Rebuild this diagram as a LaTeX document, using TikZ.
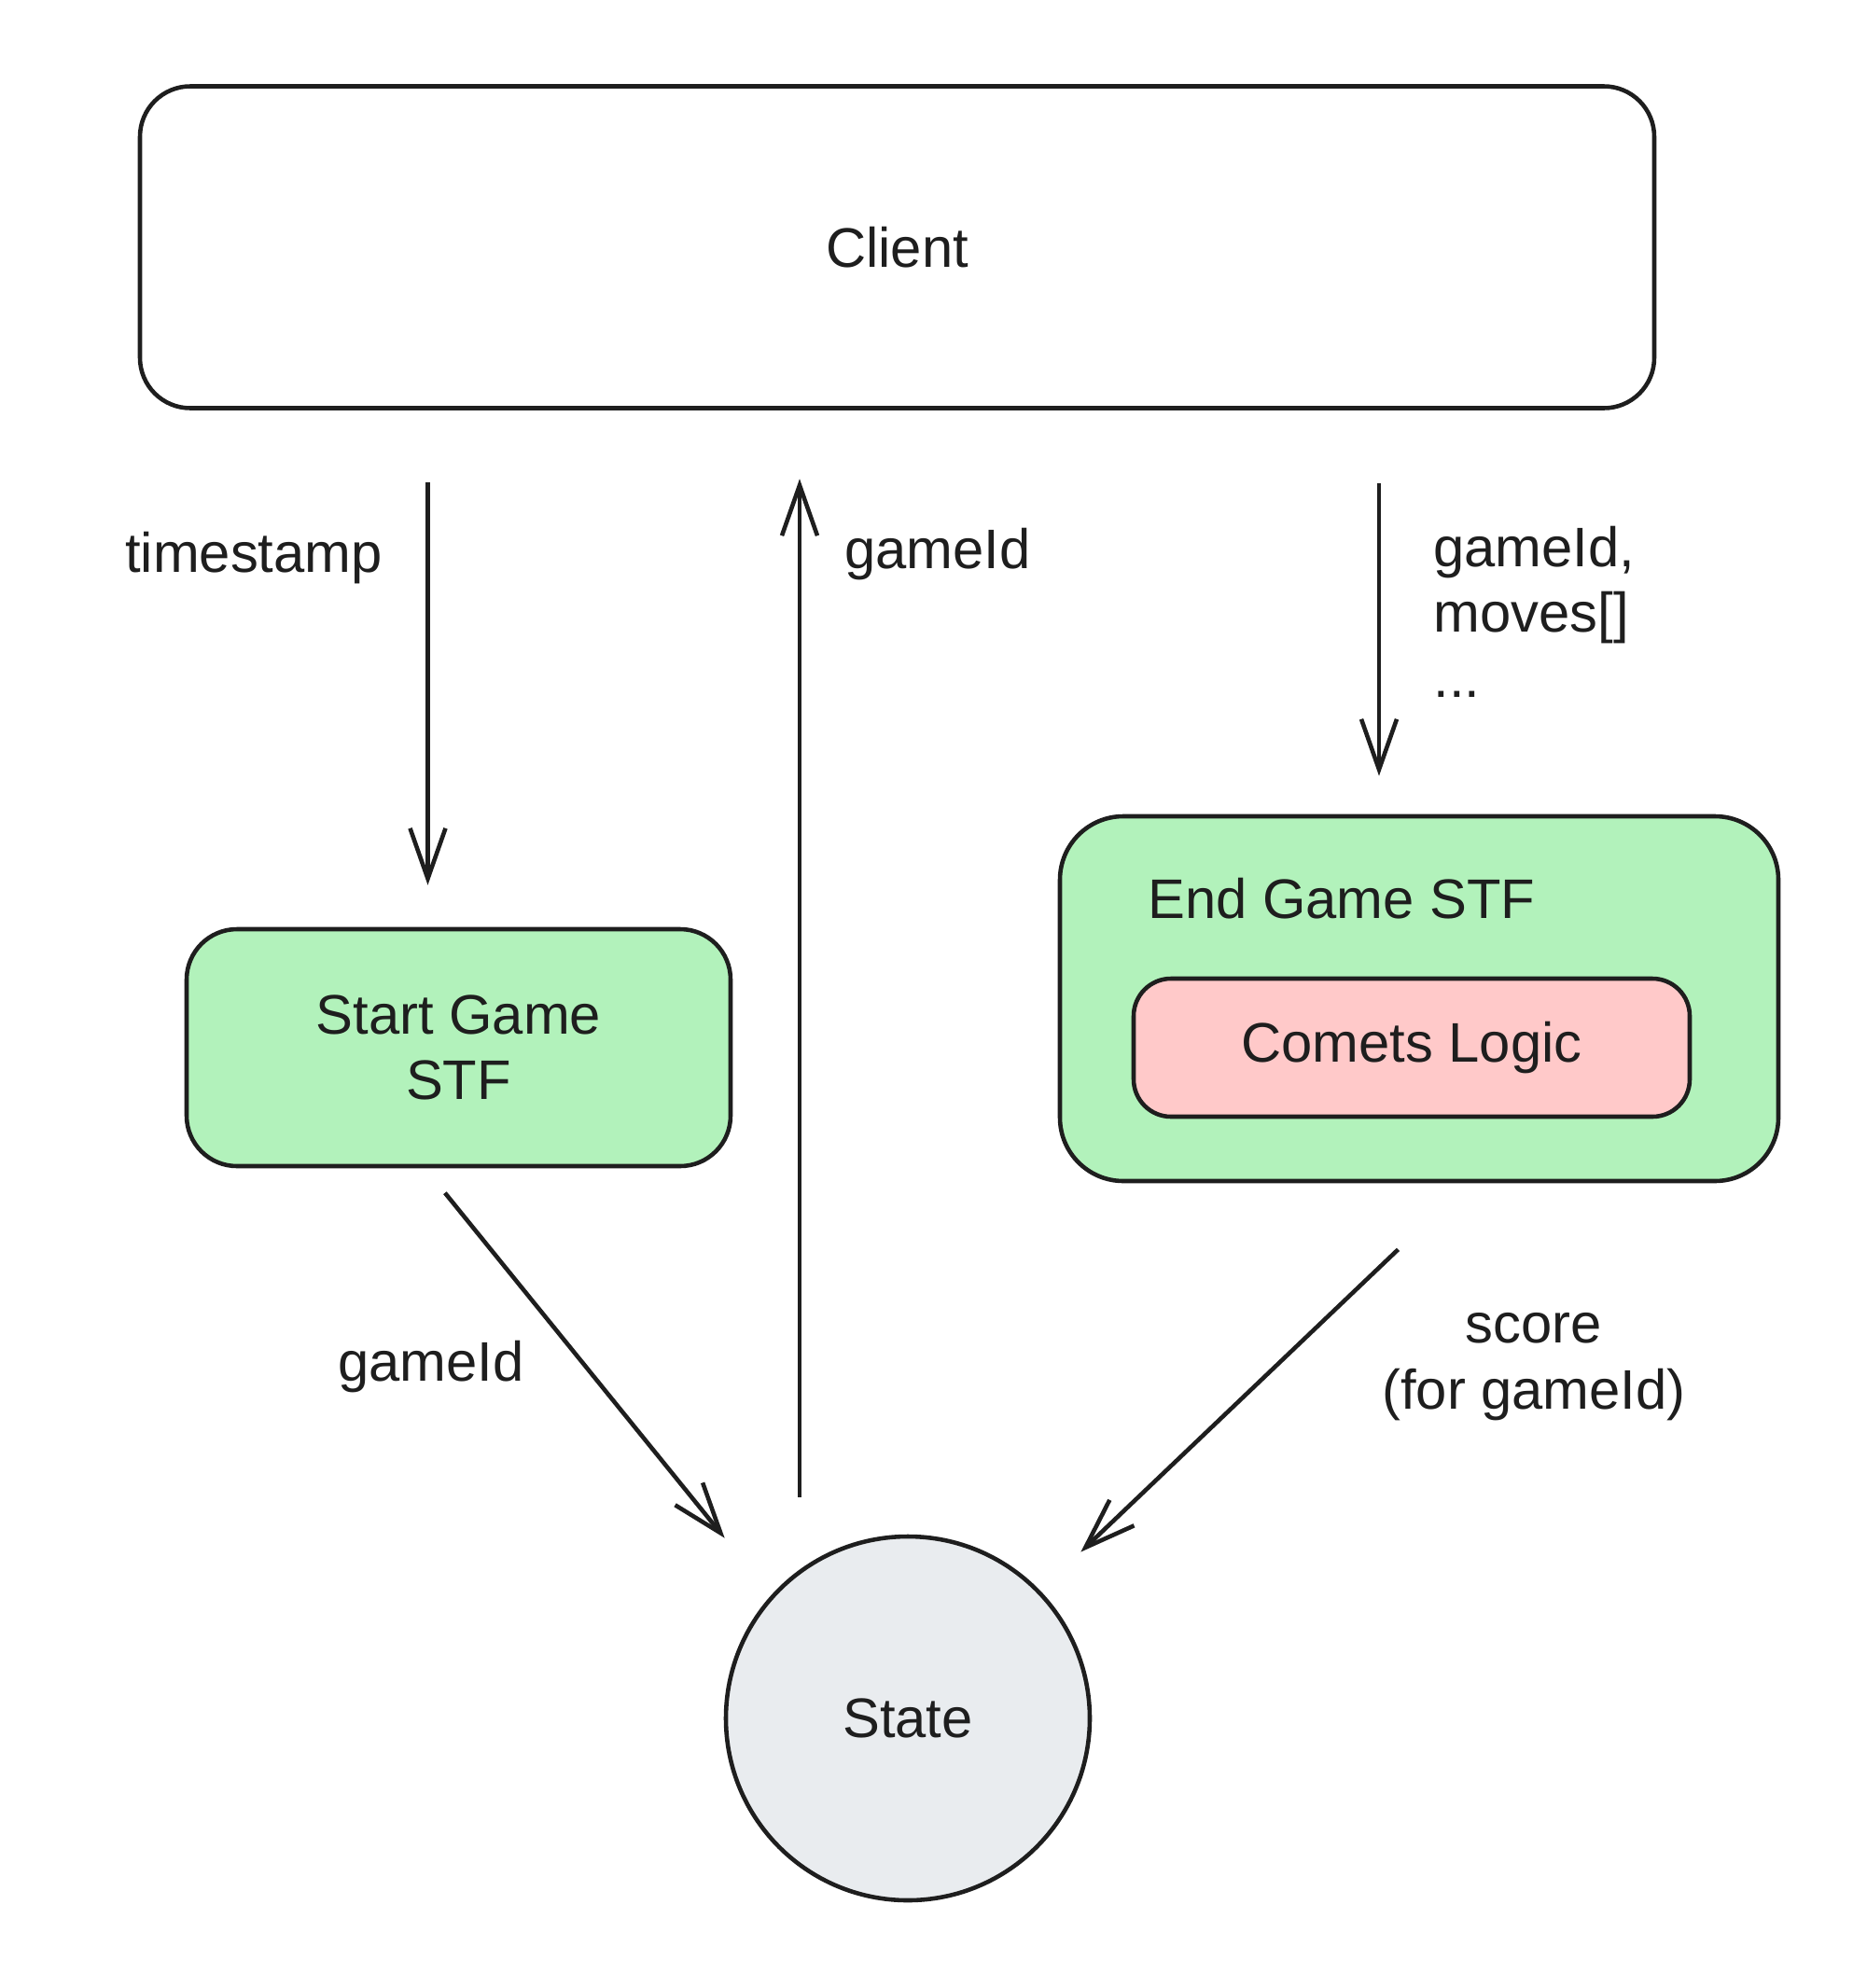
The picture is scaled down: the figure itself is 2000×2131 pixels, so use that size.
\documentclass[tikz,border=0pt]{standalone}
\usepackage{fontspec}
\setmainfont{Liberation Sans}
\usetikzlibrary{arrows.meta}
\definecolor{ink}{HTML}{1E1E1E}
\definecolor{stfgreen}{HTML}{B2F2BB}
\definecolor{logicred}{HTML}{FFC9C9}
\definecolor{stategray}{HTML}{E9ECEF}
\begin{document}
\begin{tikzpicture}[x=0.1mm,y=-0.1mm,
	every node/.style={font=\fontsize{17}{20}\selectfont, text=ink},
	box/.style={draw=ink, line width=1.3pt, rounded corners=5.4mm},
	arr/.style={draw=ink, line width=1.3pt, -{Straight Barb[length=5.4mm,width=3.8mm]}}]
	%keret
	\fill [white] (0,0) rectangle (2000,2131);
	\useasboundingbox (0,0) rectangle (2000,2131);
	%dobozok
	\node (client) at (961.5,265) [box, minimum width=162.3mm, minimum height=34.5mm] {Client};
	\node (start) at (491.5,1123) [box, fill=stfgreen, minimum width=58.3mm, minimum height=25.4mm, align=center] {Start Game\\STF};
	\node (end) at (1521,1070.5) [box, fill=stfgreen, rounded corners=6.8mm, minimum width=77mm, minimum height=39.1mm] {};
	\node (endlabel) at (1218,963) [anchor=west] {End Game STF};
	\node (logic) at (1513,1123) [box, fill=logicred, rounded corners=4mm, minimum width=59.6mm, minimum height=14.8mm] {Comets Logic};
	\node (state) at (973,1842) [circle, draw=ink, line width=1.3pt, fill=stategray, minimum size=39mm] {State};
	%nyilak
	\coordinate (tsx) at ([xshift=-3.3mm]start.north);
	\coordinate (upx) at ([xshift=-10.45mm]client.south);
	\coordinate (mvx) at ([xshift=-4.3mm]end.north);
	\draw [arr, shorten <=7.7mm, shorten >=4.5mm] (client.south -| tsx) -- (tsx);
	\draw [arr, shorten <=4mm, shorten >=7.35mm] (state.north -| upx) -- (upx);
	\draw [arr, shorten <=7.85mm, shorten >=4.1mm] (client.south -| mvx) -- (mvx);
	\draw [arr, shorten <=3.4mm, shorten >=7.9mm] ([xshift=-3.6mm]start.south) -- (state.138);
	\draw [arr, shorten <=10.3mm, shorten >=6mm] ([xshift=5.2mm]end.south) -- (state.44);
	%feliratok
	\node (tslabel) at (272,598) {timestamp};
	\node (uplabel) at (893,594) [anchor=west] {gameId};
	\node (mvlabel) at (1524,656) [anchor=west, align=left] {gameId,\\moves[]\\...};
	\node (idlabel) at (462,1465) {gameId};
	\node (scorelabel) at (1644,1465) [align=center] {score\\(for gameId)};
\end{tikzpicture}
\end{document}
